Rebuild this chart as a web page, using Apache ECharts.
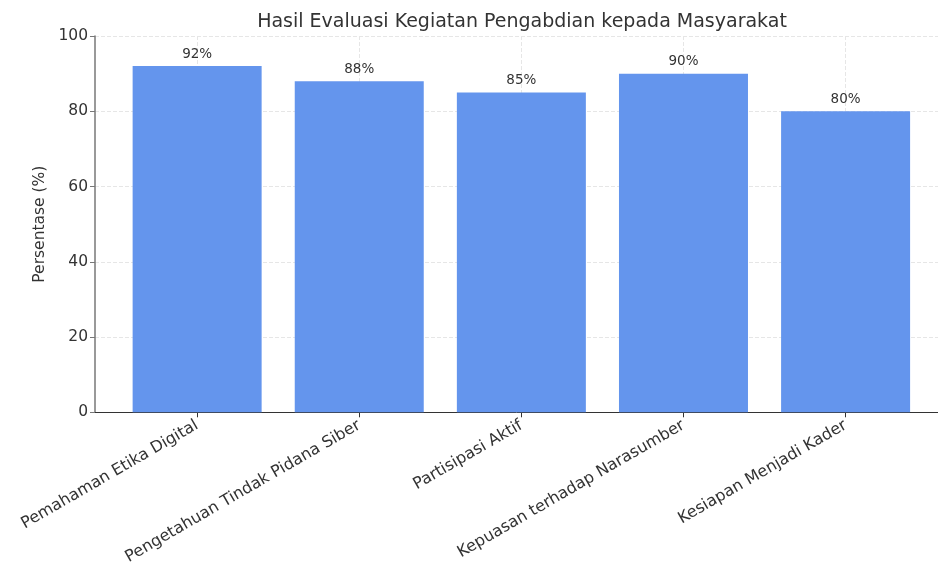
<!DOCTYPE html>
<html>
	<head>
		<meta charset="utf-8" />
		<title>Hasil Evaluasi</title>
		<style type="text/css">
			body,
			html,
			#chart {
				width: 100%;
				height: 100%;
				overflow: hidden;
				margin: 0;
				background: #fff;
			}
		</style>
	</head>
	<body>
		<div id="chart"></div>
		<script src="https://cdn.jsdelivr.net/npm/echarts@6/dist/echarts.min.js"></script>
		<script>
			// data
			var categories = [
				'Pemahaman Etika Digital',
				'Pengetahuan Tindak Pidana Siber',
				'Partisipasi Aktif',
				'Kepuasan terhadap Narasumber',
				'Kesiapan Menjadi Kader'
			];
			var values = [92, 88, 85, 90, 80];
			var yTicks = [0, 20, 40, 60, 80, 100];

			var font = 'DejaVu Sans';
			var positions = categories.map(function (c, i) { return i; });
			var barData = values.map(function (v, i) { return [i, v]; });

			var myChart = echarts.init(document.getElementById('chart'));
			var option = {
				animation: false,
				textStyle: { fontFamily: font },
				title: {
					text: 'Hasil Evaluasi Kegiatan Pengabdian kepada Masyarakat',
					left: 517,
					textAlign: 'center',
					top: 8,
					textStyle: { fontFamily: font, fontSize: 19, fontWeight: 'normal', color: '#333' }
				},
				grid: { left: 95, top: 36, right: 0, bottom: 153 },
				xAxis: {
					type: 'value',
					// visible window is cut at the page edge, like the picture
					min: -0.63,
					max: 4.57,
					axisLine: { show: true, onZero: false, lineStyle: { color: '#333', width: 1 } },
					axisTick: { show: true, customValues: positions, length: 5, lineStyle: { color: '#333' } },
					axisLabel: {
						customValues: positions,
						rotate: 30,
						fontSize: 16,
						color: '#333',
						margin: 12,
						fontFamily: font,
						formatter: function (v) { return categories[Math.round(v)]; }
					},
					splitLine: { show: true, lineStyle: { color: '#e6e6e6', type: 'dashed' } }
				},
				yAxis: {
					type: 'value',
					min: yTicks[0],
					max: yTicks[yTicks.length - 1],
					interval: 20,
					name: 'Persentase (%)',
					nameLocation: 'middle',
					nameGap: 42,
					nameTextStyle: { fontSize: 15.5, color: '#333', fontFamily: font },
					axisLine: { show: true, onZero: false, lineStyle: { color: '#777', width: 1.5 } },
					axisTick: { show: true, length: 5, lineStyle: { color: '#777' } },
					axisLabel: { fontSize: 15.5, color: '#333', margin: 7, fontFamily: font },
					splitLine: { show: true, lineStyle: { color: '#e6e6e6', type: 'dashed' } }
				},
				series: [
					{
						type: 'bar',
						data: barData,
						barWidth: 129,
						itemStyle: { color: '#6495ED' },
						label: {
							show: true,
							position: 'top',
							distance: 5,
							fontSize: 13.5,
							color: '#333',
							fontFamily: font,
							formatter: function (p) { return p.value[1] + '%'; }
						}
					}
				]
			};
			myChart.setOption(option);
		</script>
	</body>
</html>
